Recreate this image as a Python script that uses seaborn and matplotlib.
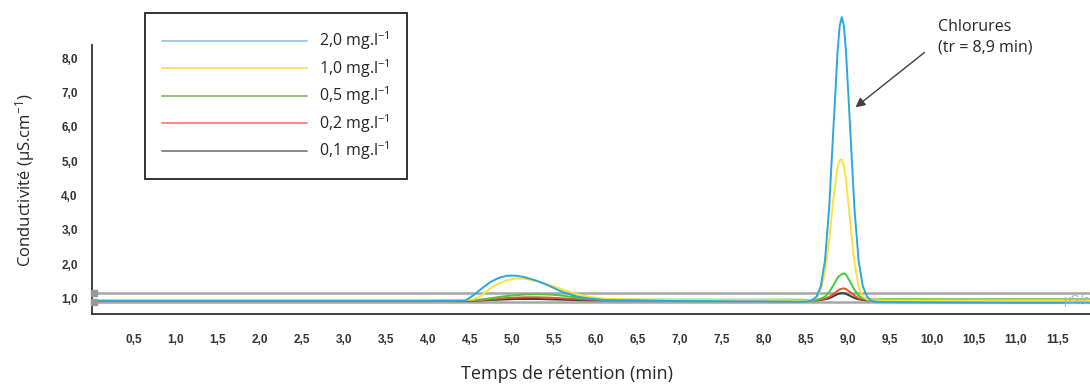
import pandas as pd
import seaborn as sns
import matplotlib.pyplot as plt
from matplotlib.lines import Line2D

# retention time grid (min)
time_min = [0.0, 1.0, 2.0, 3.0, 4.0,
            4.45, 4.55, 4.65, 4.75, 4.85, 4.95, 5.05, 5.15, 5.3, 5.45, 5.6, 5.75, 5.9, 6.1, 6.5,
            7.0, 8.0, 8.43,
            8.53, 8.58, 8.63, 8.68, 8.73, 8.78, 8.83, 8.88, 8.905, 8.93, 8.955, 8.98, 9.03, 9.08,
            9.13, 9.18, 9.23, 9.28, 9.33,
            9.43, 10.0, 11.0, 11.9]

# conductivity (uS/cm) per standard
cond_2_0 = [0.92, 0.92, 0.92, 0.92, 0.92,
            0.93, 1.10, 1.30, 1.48, 1.60, 1.66, 1.66, 1.62, 1.51, 1.36, 1.19, 1.07, 1.00, 0.95, 0.94,
            0.92, 0.91, 0.90,
            0.91, 0.95, 1.05, 1.35, 2.10, 3.65, 5.95, 8.20, 8.95, 9.20, 8.95, 8.20, 5.95, 3.65,
            2.10, 1.35, 1.05, 0.93, 0.90,
            0.89, 0.88, 0.87, 0.87]
cond_1_0 = [0.94, 0.94, 0.94, 0.94, 0.94,
            0.95, 0.97, 1.10, 1.30, 1.44, 1.53, 1.58, 1.57, 1.50, 1.39, 1.26, 1.14, 1.05, 0.99, 0.96,
            0.95, 0.95, 0.94,
            0.94, 0.96, 1.02, 1.25, 1.75, 2.70, 3.90, 4.85, 5.03, 5.05, 4.85, 4.45, 3.25, 2.05,
            1.35, 1.05, 0.97, 0.95, 0.94,
            0.94, 0.94, 0.94, 0.94]
cond_0_5 = [0.94, 0.94, 0.94, 0.94, 0.94,
            0.95, 0.95, 0.97, 1.00, 1.04, 1.07, 1.09, 1.11, 1.12, 1.11, 1.08, 1.03, 0.99, 0.96, 0.96,
            0.96, 0.96, 0.96,
            0.95, 0.95, 0.96, 0.99, 1.05, 1.18, 1.38, 1.60, 1.66, 1.70, 1.73, 1.69, 1.48, 1.25,
            1.08, 1.00, 0.97, 0.96, 0.96,
            0.97, 0.97, 0.97, 0.97]
cond_0_2 = [0.93, 0.93, 0.93, 0.93, 0.93,
            0.94, 0.94, 0.95, 0.97, 0.99, 1.01, 1.02, 1.03, 1.03, 1.02, 1.00, 0.98, 0.96, 0.95, 0.95,
            0.95, 0.95, 0.95,
            0.95, 0.95, 0.95, 0.96, 0.99, 1.04, 1.12, 1.22, 1.26, 1.28, 1.29, 1.27, 1.18, 1.08,
            1.00, 0.97, 0.96, 0.96, 0.96,
            0.96, 0.96, 0.96, 0.96]
cond_0_1 = [0.92, 0.92, 0.92, 0.92, 0.92,
            0.93, 0.93, 0.94, 0.95, 0.96, 0.97, 0.98, 0.98, 0.98, 0.97, 0.96, 0.95, 0.94, 0.94, 0.94,
            0.94, 0.94, 0.94,
            0.94, 0.94, 0.94, 0.95, 0.97, 1.00, 1.06, 1.12, 1.14, 1.15, 1.15, 1.13, 1.07, 1.01,
            0.97, 0.95, 0.94, 0.94, 0.94,
            0.95, 0.95, 0.95, 0.95]

# instrument reference lines
ref_levels = [1.16, 0.89]

labels = ["2,0", "1,0", "0,5", "0,2", "0,1"]
series = [cond_2_0, cond_1_0, cond_0_5, cond_0_2, cond_0_1]

x_ticks = [i * 0.5 for i in range(24)]
y_ticks = [1, 2, 3, 4, 5, 6, 7, 8]

curve_colors = {"2,0": "#2aa7e3", "1,0": "#ffe135", "0,5": "#45c93a",
                "0,2": "#e5532b", "0,1": "#3a3a3a"}
legend_colors = {"2,0": "#9dc3e6", "1,0": "#ffd966", "0,5": "#8db96e",
                 "0,2": "#ff7c80", "0,1": "#7f7f7f"}

df = pd.concat(
    [pd.DataFrame({"t": time_min, "v": vals, "conc": lab}) for lab, vals in zip(labels, series)],
    ignore_index=True,
)

sns.set_style("white")
plt.rcParams["font.family"] = ["Open Sans", "DejaVu Sans"]
plt.rcParams["mathtext.fontset"] = "custom"
plt.rcParams["mathtext.rm"] = "Open Sans"
plt.rcParams["mathtext.it"] = "Open Sans:italic"

fig = plt.figure(figsize=(10.9, 3.85), dpi=100)
ax = fig.add_axes([91.7 / 1090, 71.5 / 385, 1 - 91.7 / 1090, 313.5 / 385])

for lvl in ref_levels:
    ax.axhline(lvl, color="#a6a6a6", lw=1.8, zorder=1)
    ax.plot([0.03], [lvl], marker="s", ms=4, color="#999999", clip_on=False, zorder=3)

sns.lineplot(data=df, x="t", y="v", hue="conc",
             hue_order=["0,1", "0,2", "0,5", "1,0", "2,0"],
             palette=curve_colors, estimator=None, legend=False,
             linewidth=1.4, ax=ax, zorder=2)

ax.set_xlim(0, 11.885)
ax.set_ylim(0.557, 9.70)
ax.set_xticks(x_ticks)
ax.set_xticklabels([""] + [f"{v:.1f}".replace(".", ",") for v in x_ticks[1:]])
ax.set_yticks(y_ticks)
ax.set_yticklabels([f"{v:.1f}".replace(".", ",") for v in y_ticks])

for side in ["top", "right"]:
    ax.spines[side].set_visible(False)
for side in ["left", "bottom"]:
    ax.spines[side].set_color("#333333")
    ax.spines[side].set_linewidth(1.3)
ax.spines["left"].set_bounds(0.557, 8.385)

ax.tick_params(axis="both", direction="out", length=5, width=1.2, color="#333333",
               labelsize=8.5, labelcolor="#333333")
ax.tick_params(axis="x", length=6, pad=9)
ax.tick_params(axis="y", pad=5)
for lab in ax.get_xticklabels() + ax.get_yticklabels():
    lab.set_family("Liberation Sans")
    lab.set_fontweight("bold")

ax.set_xlabel("")
ax.set_ylabel("")
fig.text(567 / 1090, 1 - 374 / 385, "Temps de rétention (min)", ha="center", va="center",
         fontsize=13)
fig.text(25 / 1090, 1 - 180 / 385, r"Conductivité (µS.cm$^{-1}$)", ha="center", va="center",
         rotation=90, fontsize=12)

# annotation of the chloride peak
ax.annotate("", xy=(9.067, 6.52), xytext=(9.94, 8.22),
            arrowprops=dict(arrowstyle="-|>", color="#404040", lw=1.0, mutation_scale=14))
ax.text(10.075, 9.14, "Chlorures\n(tr = 8,9 min)", ha="left", va="top", fontsize=11.5,
        linespacing=1.35)

fig.text(1063 / 1090, 1 - 301 / 385, "µS/cm", fontsize=9.5, color="#9db3cb", va="center",
         family="Liberation Sans")

handles = [Line2D([], [], color=legend_colors[lab], lw=1.3) for lab in labels]
leg_labels = [lab + r" mg.l$^{-1}$" for lab in labels]
leg = ax.legend(handles, leg_labels, loc="upper left",
                bbox_to_anchor=(145 / 1090, 1 - 13 / 385), bbox_transform=fig.transFigure,
                fontsize=11.5, frameon=True, fancybox=False, handlelength=9.1,
                handletextpad=0.75, labelspacing=0.3, borderpad=1.05, borderaxespad=0)
leg.get_frame().set_edgecolor("#000000")
leg.get_frame().set_linewidth(1.4)

fig.savefig("out.png", dpi=100)
